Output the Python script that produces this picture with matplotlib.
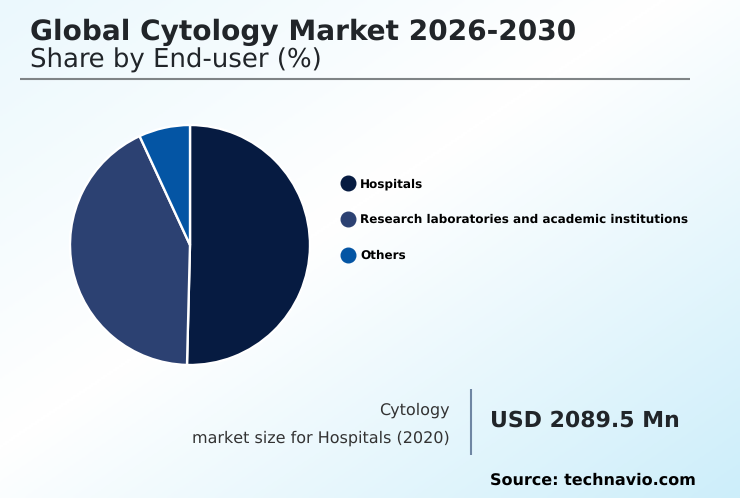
import numpy as np
import matplotlib
matplotlib.use("Agg")
import matplotlib.pyplot as plt
from matplotlib.colors import LinearSegmentedColormap
from matplotlib.lines import Line2D

plt.rcParams["text.hinting"] = "no_hinting"
plt.rcParams["text.hinting_factor"] = 1

labels = ["Hospitals", "Research laboratories and academic institutions", "Others"]
shares = [50.4, 42.7, 6.9]
colors = ["#061b41", "#2c4172", "#0455a4"]

W, H = 740, 498
fig = plt.figure(figsize=(W/100, H/100), dpi=100)

bg = fig.add_axes([0, 0, 1, 1], zorder=0)
bg.axis("off")
yy, xx = np.mgrid[0:1:249j, 0:1:370j]
t = np.clip((xx + yy - 0.9)/1.1, 0, 1)
tl = np.clip(1 - (xx + yy)/0.9, 0, 1)
val = np.maximum(t, 0.4*tl)
cmap = LinearSegmentedColormap.from_list("g", ["#ffffff", "#cdeefa"])
bg.imshow(val, cmap=cmap, vmin=0, vmax=1, aspect="auto", extent=[0, 1, 0, 1], origin="upper")
bg.set_xlim(0, 1); bg.set_ylim(0, 1)

def T(x, y, s, **k):
    fig.text(x/W, 1 - y/H, s, **k)

T(30, 32, "Global Cytology Market 2026-2030", fontsize=20.2, fontweight="bold", color="#212529", va="center")
T(30, 60, "Share by End-user (%)", fontsize=18.7, color="#212529", va="center")
fig.add_artist(Line2D([20/W, 690/W], [1-79.5/H]*2, color="#7f8486", lw=1.5, solid_capstyle="butt"))

ax = fig.add_axes([70/W, 1-365/H, 240/W, 240/H], zorder=1)
ax.pie(shares, colors=colors, startangle=90, counterclock=False, radius=1,
       wedgeprops=dict(edgecolor="white", linewidth=1.7))
ax.set_xlim(-1, 1); ax.set_ylim(-1, 1)
ax.set_aspect("equal")

leg_y = [184, 220, 256]
for lab, col, y in zip(labels, colors, leg_y):
    fig.add_artist(Line2D([348/W], [1-(y-1)/H], marker="o", ms=10.5, color=col, lw=0))
    T(360, y, lab, fontsize=8.6, fontweight="bold", color="#000000", va="center")

T(450, 410.5, "Cytology", fontsize=11.5, color="#333333", va="center", ha="right")
T(450, 438.5, "market size for Hospitals (2020)", fontsize=11.5, color="#333333", va="center", ha="right")
fig.add_artist(Line2D([470.5/W]*2, [1-389/H, 1-455/H], color="#6f86a3", lw=1.5, solid_capstyle="butt"))
T(490, 421, "USD 2089.5 Mn", fontsize=15.8, fontweight="bold", color="#212529", va="center")
T(490, 480.5, "Source: technavio.com", fontsize=11.45, fontweight="bold", color="#000000", va="center")

fig.savefig("out.png", dpi=100)
